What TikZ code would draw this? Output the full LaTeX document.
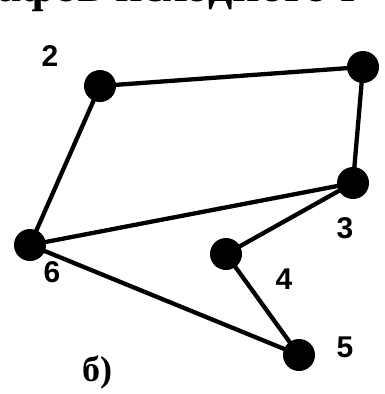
\documentclass[tikz,border=0pt]{standalone}
\usepackage{fontspec}
\setmainfont{Liberation Serif}
\newfontfamily\labfont{Liberation Sans}
\begin{document}
\begin{tikzpicture}[x=1pt,y=-1pt,
  vtx/.style={circle,fill=black,inner sep=0pt,minimum size=32pt},
  edge/.style={line width=4.3pt},
  lab/.style={font=\labfont\bfseries\fontsize{30}{30}\selectfont}]
\useasboundingbox (0,0) rectangle (384,394);
\clip (0,0) rectangle (384,394);
\node[anchor=base west,inner sep=0pt,font=\bfseries\fontsize{48}{48}\selectfont] (hdr) at (-3,1) {афов исходного г};
\node[vtx] (v2) at (100,86) {};
\node[vtx] (v1) at (363,67) {};
\node[vtx] (v3) at (353,183) {};
\node[vtx] (v6) at (30,245) {};
\node[vtx] (v4) at (226,254) {};
\node[vtx] (v5) at (299,355) {};
\draw[edge] (v2.center) -- (v1.center) -- (v3.center) -- (v6.center) -- (v2.center);
\draw[edge] (v3.center) -- (v4.center) -- (v5.center) -- (v6.center);
\node[lab] (l2) at (50,56) {2};
\node[lab] (l3) at (345,228) {3};
\node[lab] (l6) at (52,272) {6};
\node[lab] (l4) at (284,279) {4};
\node[lab] (l5) at (345,347) {5};
\node[font=\bfseries\fontsize{36}{36}\selectfont] (lb) at (97,372) {б)};
\end{tikzpicture}
\end{document}
